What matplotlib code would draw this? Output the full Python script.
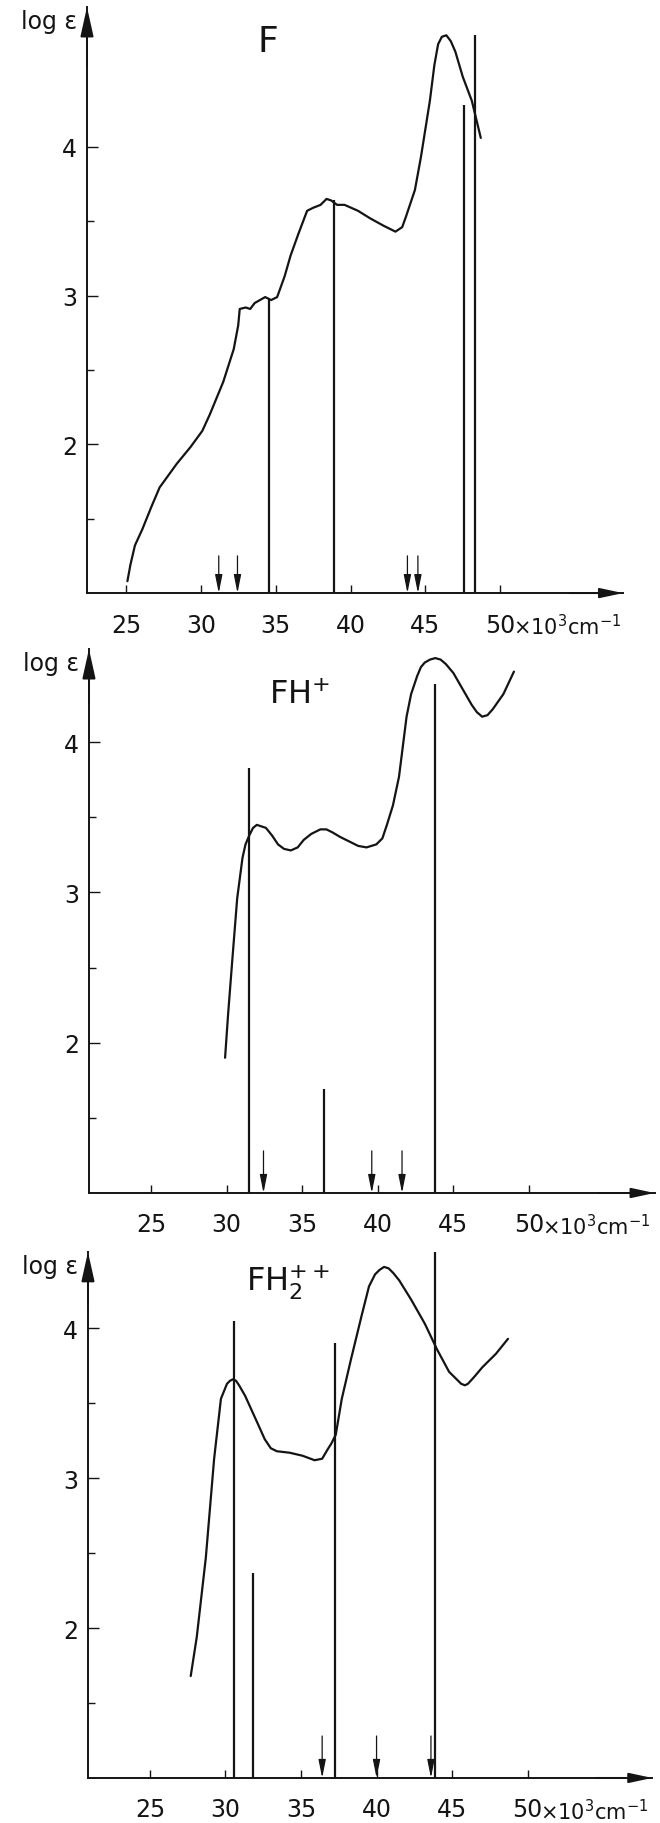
import matplotlib
matplotlib.use("Agg")
import matplotlib.pyplot as plt

INK = "#141414"

plt.rcParams.update({
    "font.family": ["DejaVu Sans"],
    "font.size": 17,
    "text.color": INK,
    "xtick.color": INK,
    "ytick.color": INK,
    "axes.edgecolor": INK,
})

# ---- data (wavenumber in 10^3 cm^-1, log eps) ----
# panel F
f_x = [25.1, 25.3, 25.6, 26.1, 26.7, 27.25, 28.4, 29.3, 30.1, 30.6, 31.5, 32.2, 32.5,
       32.6, 33.0, 33.3, 33.6, 34.3, 34.7, 35.1, 35.6, 36.0, 36.5, 37.1, 37.5,
       38.0, 38.4, 38.7, 39.1, 39.6, 40.5, 41.3, 42.2, 43.0, 43.45, 43.7, 44.3,
       44.7, 45.3, 45.6, 45.85, 46.1, 46.4, 46.7, 47.0, 47.5, 48.1, 48.7]
f_y = [1.08, 1.19, 1.32, 1.43, 1.58, 1.71, 1.87, 1.98, 2.09, 2.20, 2.42, 2.64, 2.80,
       2.91, 2.92, 2.91, 2.95, 2.99, 2.97, 2.99, 3.13, 3.27, 3.41, 3.57, 3.59,
       3.61, 3.65, 3.64, 3.61, 3.61, 3.57, 3.52, 3.47, 3.43, 3.46, 3.53, 3.71,
       3.93, 4.31, 4.55, 4.69, 4.74, 4.75, 4.71, 4.64, 4.47, 4.31, 4.06]
f_lines_x = [34.58, 38.9, 47.55, 48.33]
f_lines_top = [2.98, 3.64, 4.28, 4.75]
f_arrows_x = [31.2, 32.45, 43.8, 44.5]

# panel FH+
fh_x = [29.9, 30.1, 30.4, 30.7, 31.05, 31.25, 31.5, 31.75, 32.0, 32.6, 33.0, 33.4,
        33.8, 34.25, 34.7, 35.1, 35.6, 36.2, 36.6, 37.0, 37.5, 38.1, 38.7, 39.25,
        39.9, 40.3, 40.6, 41.0, 41.4, 41.9, 42.2, 42.6, 42.85, 43.1, 43.45, 43.8,
        44.15, 44.5, 45.0, 45.4, 46.2, 46.55, 46.9, 47.25, 47.6, 48.3, 49.0]
fh_y = [1.90, 2.19, 2.58, 2.96, 3.23, 3.32, 3.38, 3.43, 3.45, 3.43, 3.38, 3.32,
        3.29, 3.28, 3.30, 3.35, 3.39, 3.42, 3.42, 3.40, 3.37, 3.34, 3.31, 3.30,
        3.32, 3.36, 3.45, 3.58, 3.77, 4.17, 4.32, 4.44, 4.50, 4.53, 4.55, 4.56,
        4.55, 4.52, 4.46, 4.39, 4.25, 4.20, 4.17, 4.18, 4.22, 4.32, 4.47]
fh_lines_x = [31.45, 36.46, 43.8]
fh_lines_top = [3.83, 1.69, 4.39]
fh_arrows_x = [32.44, 39.6, 41.6]

# panel FH2++
fh2_x = [27.7, 28.1, 28.7, 29.25, 29.7, 30.1, 30.3, 30.5, 30.7, 30.9, 31.3, 31.75,
         32.2, 32.6, 33.0, 33.4, 34.25, 35.1, 35.9, 36.4, 36.75, 37.0, 37.3, 37.7,
         38.3, 39.0, 39.5, 39.9, 40.2, 40.5, 40.8, 41.1, 41.5, 42.3, 43.2, 44.0,
         44.8, 45.3, 45.6, 45.85, 46.05, 46.5, 47.0, 47.9, 48.7]
fh2_y = [1.68, 1.94, 2.47, 3.13, 3.53, 3.63, 3.65, 3.66, 3.65, 3.62, 3.55, 3.45,
         3.35, 3.26, 3.20, 3.18, 3.17, 3.15, 3.12, 3.13, 3.19, 3.23, 3.29, 3.53,
         3.79, 4.08, 4.28, 4.36, 4.39, 4.41, 4.40, 4.37, 4.32, 4.19, 4.03, 3.86,
         3.71, 3.66, 3.63, 3.62, 3.63, 3.68, 3.74, 3.83, 3.93]
fh2_lines_x = [30.55, 31.8, 37.25, 43.85]
fh2_lines_top = [4.05, 2.37, 3.90, 4.51]
fh2_arrows_x = [36.4, 40.0, 43.6]

x_ticks = [25, 30, 35, 40, 45, 50]
x_tick_labels = ["25", "30", "35", "40", "45", "50"]
y_ticks = [2, 3, 4]
y_minor = [1.5, 2.5, 3.5]
arrow_top = [1.25, 1.28, 1.28]

BASE = 1.0


def setup_axis(ax, xlim, ylim):
    ax.set_xlim(*xlim)
    ax.set_ylim(*ylim)
    for s in ["top", "right"]:
        ax.spines[s].set_visible(False)
    for s in ["left", "bottom"]:
        ax.spines[s].set_linewidth(1.4)
    ax.set_xticks(x_ticks)
    ax.set_xticklabels(x_tick_labels)
    ax.set_yticks(y_ticks)
    ax.set_yticks(y_minor, minor=True)
    ax.tick_params(axis="x", direction="in", length=6, width=1.0, pad=14, labelsize=17)
    ax.tick_params(axis="y", direction="in", length=8, width=1.0, pad=7, labelsize=17)
    ax.tick_params(axis="y", which="minor", direction="in", length=5, width=1.0)
    # arrow heads on both axes
    ax.annotate("", xy=(0, 1), xytext=(0, 0.9), xycoords="axes fraction",
                arrowprops=dict(arrowstyle="-|>,head_length=0.9,head_width=0.2",
                                color=INK, lw=1.4, shrinkA=0, shrinkB=0,
                                mutation_scale=20))
    ax.annotate("", xy=(1, 0), xytext=(0.9, 0), xycoords="axes fraction",
                arrowprops=dict(arrowstyle="-|>,head_length=0.7,head_width=0.15",
                                color=INK, lw=1.4, shrinkA=0, shrinkB=0,
                                mutation_scale=20))
    ax.annotate("log ε", xy=(0, 1), xycoords="axes fraction", xytext=(-7, -10),
                textcoords="offset points", ha="right", va="center", fontsize=17)
    ax.annotate("×10$^3$cm$^{-1}$", xy=(50, 0), xycoords=("data", "axes fraction"),
                xytext=(9, -14.5), textcoords="offset points", ha="left", va="top",
                fontsize=15)


def draw_panel(ax, xs, ys, lx, ltop, ax_x, a_top):
    ax.plot(xs, ys, color=INK, lw=1.6, solid_capstyle="round",
            solid_joinstyle="round", zorder=3)
    ax.vlines(lx, BASE, ltop, color=INK, lw=1.6, zorder=3)
    for x in ax_x:
        ax.annotate("", xy=(x, BASE), xytext=(x, a_top),
                    arrowprops=dict(arrowstyle="-|>,head_length=1.1,head_width=0.22",
                                    color=INK, lw=0.9, shrinkA=0, shrinkB=0,
                                    mutation_scale=10))


fig = plt.figure(figsize=(6.6, 18.24), dpi=100)
fig.patch.set_facecolor("white")

ax1 = fig.add_axes([0.1318, 0.6743, 0.8122, 0.3213])
setup_axis(ax1, (22.4, 58.2), (BASE, 4.94))
draw_panel(ax1, f_x, f_y, f_lines_x, f_lines_top, f_arrows_x, arrow_top[0])
ax1.text(0.338, 0.942, "F", transform=ax1.transAxes, ha="center", va="center", fontsize=26)

ax2 = fig.add_axes([0.1348, 0.3454, 0.857, 0.2982])
setup_axis(ax2, (20.9, 58.3), (BASE, 4.62))
draw_panel(ax2, fh_x, fh_y, fh_lines_x, fh_lines_top, fh_arrows_x, arrow_top[1])
ax2.text(0.373, 0.917, "FH$^{+}$", transform=ax2.transAxes, ha="center", va="center",
         fontsize=23)

ax3 = fig.add_axes([0.1333, 0.0247, 0.855, 0.2884])
setup_axis(ax3, (20.9, 58.25), (BASE, 4.51))
draw_panel(ax3, fh2_x, fh2_y, fh2_lines_x, fh2_lines_top, fh2_arrows_x, arrow_top[2])
ax3.text(0.355, 0.945, "FH$_2^{++}$", transform=ax3.transAxes, ha="center", va="center",
         fontsize=23)

fig.savefig("out.png", dpi=100, facecolor="white")
